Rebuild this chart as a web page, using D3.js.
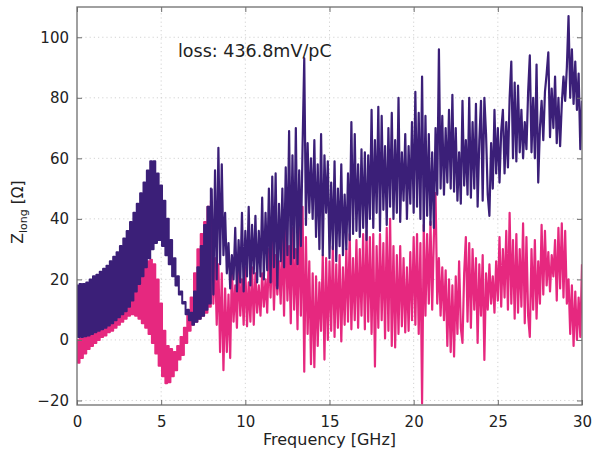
<!DOCTYPE html>
<html>
<head>
<meta charset="utf-8">
<script src="https://cdn.jsdelivr.net/npm/d3@7"></script>
<style>
  html, body { margin: 0; padding: 0; background: #fff; }
  svg { display: block; font-family: "DejaVu Sans", sans-serif; }
</style>
</head>
<body>
<svg id="chart" width="592" height="451"></svg>
<script>
// Longitudinal impedance spectrum, two wake simulations sampled every 0.1 GHz from 0 to 30 GHz.
const freqStart = 0;
const freqStep = 0.1;
// below this frequency the traces ring so fast that they render as a solid band
const denseUntil = 8.0;

// Dark (upper) trace, values in Ohm.
const zDark = [
  18, 1, 18.5, 1, 18.5, 1.2, 19, 1.5, 20, 2,
  21, 2.5, 21.5, 3, 22.5, 3.5, 23.5, 4, 24.5, 4.8,
  26, 5.5, 27.5, 6.5, 29, 7.5, 31, 8.5, 33.5, 9.5,
  36, 11, 39, 13, 42, 16, 45, 18.5, 48.5, 21,
  52, 24, 56, 27, 59, 30, 59, 32, 55, 33,
  51, 31, 46, 28, 40, 25, 33, 21, 27, 18,
  21, 15, 16, 12, 12.5, 8.5, 10, 6.5, 9, 5,
  16, 6, 24, 7, 31, 8, 38, 10, 44, 12,
  50, 15, 56, 20, 63.5, 25, 58, 28, 42, 22,
  32, 17, 28, 20, 37, 16, 33, 19, 42, 16,
  36, 21, 44, 18, 38, 22, 41, 19, 36, 21,
  47, 20, 42, 23, 50, 19, 54, 24, 55, 17,
  45, 26, 50, 24, 57, 28, 69, 25, 61, 27,
  70, 25, 56, 31, 64, 93, 38, 65, 42, 60,
  40, 66, 34, 58, 30, 68, 28, 61, 42, 59,
  27, 52, 30, 59, 26, 50, 31, 58, 28, 48,
  30, 55, 33, 72, 35, 68, 36, 58, 34, 63,
  37, 62, 33, 61, 40, 76, 37, 66, 42, 77,
  36, 74, 43, 64, 38, 70, 44, 75, 40, 66,
  42, 80, 39, 62, 46, 68, 40, 64, 45, 72,
  42, 82, 44, 75, 40, 87, 36, 74, 41, 68,
  38, 62, 37, 70, 48, 96, 50, 74, 48, 70,
  52, 76, 50, 81, 49, 70, 46, 62, 45, 79,
  51, 66, 48, 80, 47, 72, 50, 78, 44, 66,
  79, 46, 80, 68, 48, 41, 65, 50, 76, 55,
  70, 52, 69, 76, 55, 72, 57, 80, 92, 60,
  85, 59, 84, 62, 76, 60, 72, 63, 82, 94,
  62, 80, 60, 91, 52, 70, 79, 66, 82, 88,
  95, 67, 83, 70, 87, 65, 80, 64, 78, 87,
  79, 90, 107, 80, 96, 78, 92, 76, 88, 63,
  79
];

// Pink (lower) trace, values in Ohm.
const zPink = [
  0, -7.5, 0.5, -6, 1, -4.5, 1.5, -3, 2.5, -2,
  3.5, -1, 4.5, 0, 5.5, 1, 6.5, 1.5, 7.5, 2.5,
  8.5, 3, 9.5, 4, 10.5, 5, 12, 6, 13, 7,
  15, 8, 16.5, 8.5, 18.5, 8, 20.5, 7, 22.5, 5.5,
  24.5, 4, 26, 2, 26.5, -1, 25, -4.5, 20, -8.5,
  12, -12, 3, -14.3, -2, -14, -3, -12, -4, -10,
  -2, -6.5, 1, -5, 4, -1, 8, 3, 14, 5,
  22, 6, 30, 7, 35, 8, 39, 9, 44, 11,
  46, 12, 27, 5, 25, -4, 22, -10, 17, -4,
  15, -6, 24, 6, 18, 4, 26, 8, 20, 5,
  24, 4.5, 19, 6, 24, 5, 22, 9, 18, 8,
  22, 11, 20, 9, 30, 14, 33, 10, 28, 15,
  26, 12, 34, 8, 39, 13, 31, 5.5, 37, 10,
  30, 3.5, 40, 8, 44, -10.5, 34, 2, 26, -8,
  22, -9, 21, -2, 19, 3, 28, -6.5, 27, 0,
  26, 3, 31, 1, 25, 4, 28, -0.5, 24, 5,
  30, 6, 35, 3.5, 27, 6.5, 33, 4, 30, 8,
  35, 3.5, 36, 6, 34, 2, 35, -8.8, 31, 4,
  35, 6.5, 32, 0.5, 37, 3, 40, -2, 31, -2.5,
  28, 2, 31, 4.5, 27, 2.5, 24, 3, 29, 6.5,
  34, 5, 35, 2, 32, -21, 38, 8, 35, 12,
  39, 10, 34, 48.5, 12, 27, 8, 24, 6.5, 23,
  -2, 20, -4, 18, -5.5, 21, 2, 26, 4, -1,
  22, 34, 6, 32, 4, 30, 10, 27, -1, 25,
  8, 28, -6.6, 22, 10, 25, 12, 21, 9, 26,
  13, 34, 11, 30, 14, 36, 10, 42, 12, 33,
  7, 35, 9, 30, 11, 38.5, 5.5, 34, 8, 1,
  30, 10, 33, 7, 26, 12, 38, 15, 36, 18,
  29, 16, 28, 21, 33, 13, 37, 17, 38.5, 14,
  36, 12, 20, 2, 18, -2, 16, 0, 14, 1,
  25
];

const xTicks = [0, 5, 10, 15, 20, 25, 30];
const yTicks = [-20, 0, 20, 40, 60, 80, 100];
const xLabel = "Frequency [GHz]";
const annotation = "loss: 436.8mV/pC";

const margin = { left: 77, right: 10, top: 7, bottom: 46 };
const W = 592, H = 451;
const svg = d3.select("#chart");

const x = d3.scaleLinear().domain([0, 30]).range([margin.left, W - margin.right]);
const y = d3.scaleLinear().domain([-21.5, 110]).range([H - margin.bottom, margin.top]);

const x0 = x.range()[0], x1 = x.range()[1];
const y0 = y.range()[0], y1 = y.range()[1];

// dotted grid
const grid = svg.append("g").attr("stroke", "#c8c8c8").attr("stroke-width", 0.8)
  .attr("stroke-dasharray", "1.2,3");
grid.selectAll(".gx").data(xTicks.slice(1, -1)).join("line")
  .attr("x1", d => x(d)).attr("x2", d => x(d)).attr("y1", y0).attr("y2", y1);
grid.selectAll(".gy").data(yTicks).join("line")
  .attr("y1", d => y(d)).attr("y2", d => y(d)).attr("x1", x0).attr("x2", x1);

// traces
svg.append("defs").append("clipPath").attr("id", "plotArea")
  .append("rect").attr("x", x0).attr("y", y1).attr("width", x1 - x0).attr("height", y0 - y1);

const samples = arr => arr.map((v, i) => ({ f: freqStart + i * freqStep, v }));
const cut = Math.round((denseUntil - freqStart) / freqStep);

const lineDense = d3.line().x(d => x(d.f)).y(d => y(d.v)).curve(d3.curveStep);
const lineSparse = d3.line().x(d => x(d.f)).y(d => y(d.v));

const traces = svg.append("g").attr("clip-path", "url(#plotArea)");
function drawTrace(values, color) {
  const pts = samples(values);
  const g = traces.append("g").attr("fill", "none").attr("stroke", color)
    .attr("stroke-linejoin", "round");
  g.append("path").attr("d", lineDense(pts.slice(0, cut + 1))).attr("stroke-width", 2);
  g.append("path").attr("d", lineSparse(pts.slice(cut))).attr("stroke-width", 2.2);
}
drawTrace(zPink, "#e6287f");
drawTrace(zDark, "#3b1f78");

// axes: ticks pointing inward on all four sides
const axisColor = "#6e6e6e";
const tickLen = 5;
const fontSize = 15;

function styleAxis(g) {
  g.select(".domain").remove();
  g.selectAll(".tick line").attr("stroke", axisColor).attr("stroke-width", 1);
  g.selectAll(".tick text").attr("fill", "#222").style("font-size", fontSize + "px")
    .style("font-family", "DejaVu Sans, sans-serif");
}

svg.append("g").attr("transform", `translate(0,${y0})`)
  .call(d3.axisBottom(x).tickValues(xTicks).tickSizeInner(-tickLen).tickSizeOuter(0).tickPadding(11).tickFormat(d3.format("d")))
  .call(styleAxis);
svg.append("g").attr("transform", `translate(0,${y1})`)
  .call(d3.axisTop(x).tickValues(xTicks).tickSizeInner(-tickLen).tickSizeOuter(0).tickFormat(""))
  .call(styleAxis);
svg.append("g").attr("transform", `translate(${x0},0)`)
  .call(d3.axisLeft(y).tickValues(yTicks).tickSizeInner(-tickLen).tickSizeOuter(0).tickPadding(8)
    .tickFormat(d => d < 0 ? "\u2212" + Math.abs(d) : d))
  .call(styleAxis);
svg.append("g").attr("transform", `translate(${x1},0)`)
  .call(d3.axisRight(y).tickValues(yTicks).tickSizeInner(-tickLen).tickSizeOuter(0).tickFormat(""))
  .call(styleAxis);

// box
svg.append("rect").attr("x", x0).attr("y", y1).attr("width", x1 - x0).attr("height", y0 - y1)
  .attr("fill", "none").attr("stroke", axisColor).attr("stroke-width", 1.3);

// axis titles
svg.append("text").attr("x", (x0 + x1) / 2).attr("y", 445)
  .attr("text-anchor", "middle").attr("fill", "#222")
  .style("font-size", "16px")
  .text(xLabel);

const yt = svg.append("text")
  .attr("transform", `translate(23,212) rotate(-90)`)
  .attr("text-anchor", "middle").attr("fill", "#222")
  .style("font-size", "15.5px");
yt.append("tspan").text("Z");
yt.append("tspan").attr("dy", 4).style("font-size", "11px").text("long");
yt.append("tspan").attr("dy", -4).text(" [\u03A9]");

// loss annotation
svg.append("text").attr("x", 178).attr("y", 57).attr("fill", "#222")
  .style("font-size", "17.5px").text(annotation);
</script>
</body>
</html>
